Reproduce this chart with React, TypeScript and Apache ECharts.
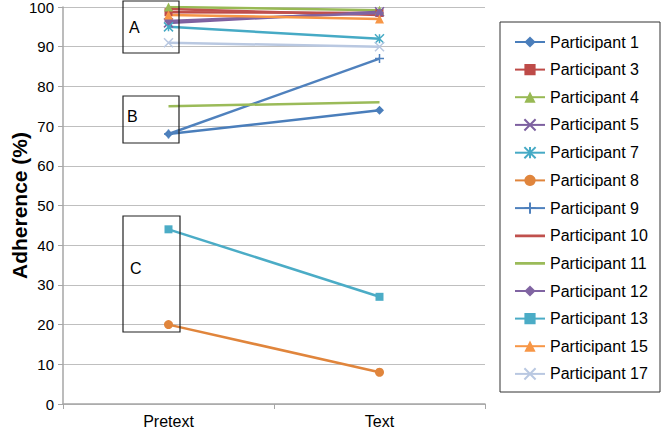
import React, { useEffect, useRef } from "react";
import * as echarts from "echarts";

const categories = ["Pretext", "Text"];
const yTicks = [0, 10, 20, 30, 40, 50, 60, 70, 80, 90, 100];

const names = [
  "Participant 1", "Participant 3", "Participant 4", "Participant 5", "Participant 7",
  "Participant 8", "Participant 9", "Participant 10", "Participant 11", "Participant 12",
  "Participant 13", "Participant 15", "Participant 17",
];
const values: number[][] = [
  [68, 74],
  [98.7, 98.5],
  [100, 99.2],
  [96, 98.8],
  [95, 92],
  [20, 8],
  [68, 87],
  [99.5, 98],
  [75, 76],
  [96.5, 98.5],
  [44, 27],
  [98, 97],
  [91, 90],
];
const colors = [
  "#4A7EBB", "#BE4B48", "#98B954", "#7D60A0", "#46AAC5",
  "#E0853C", "#4F81BD", "#C0504D", "#9BBB59", "#8064A2",
  "#4BACC6", "#F79646", "#B9C8E1",
];
const symbols = [
  "diamond", "rect", "triangle", "x", "star",
  "circle", "plus", "none", "none", "diamond",
  "rect", "triangle", "x",
];

const symbolPath: Record<string, string> = {
  x: "path://M0,0L10,10M10,0L0,10",
  plus: "path://M5,0L5,10M0,5L10,5",
  star: "path://M0,0L10,10M10,0L0,10M5,0L5,10",
};

const lineIcon = "path://M0,0L0,0.01M30,14L30,13.99M0,5.6L30,5.6L30,8.4L0,8.4Z";

export default function App() {
  const ref = useRef<HTMLDivElement>(null);
  useEffect(() => {
    const chart = echarts.init(ref.current!, undefined, { renderer: "svg" });
    const series = names.map((n, i) => {
      const sym = symbols[i];
      const isLineSym = sym === "x" || sym === "plus" || sym === "star";
      return {
        name: n,
        type: "line",
        data: values[i],
        symbol: sym === "none" ? "none" : isLineSym ? symbolPath[sym] : sym,
        symbolSize: sym === "rect" ? 8 : 9,
        showSymbol: sym !== "none",
        lineStyle: { color: colors[i], width: 2.5 },
        itemStyle: isLineSym
          ? { color: "none", borderColor: colors[i], borderWidth: 1.5 }
          : { color: colors[i], borderColor: colors[i], borderWidth: 0 },
        z: 2,
      };
    });
    chart.setOption({
      animation: false,
      grid: { left: 63, top: 7, right: 180, bottom: 25, containLabel: false, outerBoundsMode: "none" },
      legend: {
        orient: "vertical",
        left: 509,
        top: 29,
        itemGap: 11.6,
        itemWidth: 30,
        itemHeight: 14,
        textStyle: { fontFamily: "Liberation Sans", fontSize: 16, lineHeight: 16, color: "#000" },
        data: names.map((n, i) =>
          symbols[i] === "none"
            ? { name: n, icon: lineIcon, itemStyle: { color: colors[i] } }
            : { name: n }
        ),
      },
      xAxis: {
        type: "category",
        data: categories,
        boundaryGap: true,
        axisLine: { lineStyle: { color: "#A6A6A6", width: 1.5 } },
        axisTick: { show: true, lineStyle: { color: "#A6A6A6" }, length: 5 },
        axisLabel: { color: "#000", fontFamily: "Liberation Sans", fontSize: 16, margin: 9 },
      },
      yAxis: {
        type: "value",
        min: 0,
        max: 100,
        interval: 10,
        name: "Adherence (%)",
        nameLocation: "middle",
        nameGap: 33,
        nameMoveOverlap: false,
        nameTextStyle: { fontFamily: "Liberation Sans", fontSize: 21, fontWeight: "bold", color: "#000" },
        axisLine: { show: true, lineStyle: { color: "#A6A6A6", width: 1.5 } },
        axisTick: { show: true, length: 5, lineStyle: { color: "#A6A6A6" } },
        axisLabel: { color: "#000", fontFamily: "Liberation Sans", fontSize: 15, margin: 9 },
        splitLine: { lineStyle: { color: "#BFBFBF", width: 1 } },
      },
      graphic: [
        { type: "rect", shape: { x: 0, y: 0, width: 160, height: 370 }, x: 500, y: 22, style: { fill: "none", stroke: "#333", lineWidth: 1 }, z: 0 },
        { type: "rect", shape: { x: 0, y: 0, width: 56, height: 52 }, x: 123, y: 1, style: { fill: "none", stroke: "#222", lineWidth: 1.2 }, z: 10 },
        { type: "text", x: 129, y: 19, style: { text: "A", fontFamily: "Liberation Sans", fontSize: 16, fill: "#000" }, z: 10 },
        { type: "rect", shape: { x: 0, y: 0, width: 56, height: 47 }, x: 123, y: 96, style: { fill: "none", stroke: "#222", lineWidth: 1.2 }, z: 10 },
        { type: "text", x: 127, y: 108, style: { text: "B", fontFamily: "Liberation Sans", fontSize: 16, fill: "#000" }, z: 10 },
        { type: "rect", shape: { x: 0, y: 0, width: 57, height: 116 }, x: 123, y: 216, style: { fill: "none", stroke: "#222", lineWidth: 1.2 }, z: 10 },
        { type: "text", x: 130, y: 260, style: { text: "C", fontFamily: "Liberation Sans", fontSize: 16, fill: "#000" }, z: 10 },
      ],
      series,
    });
    return () => chart.dispose();
  }, []);
  return <div ref={ref} style={{ width: 665, height: 429, position: "absolute", left: 0, top: 0 }} />;
}
